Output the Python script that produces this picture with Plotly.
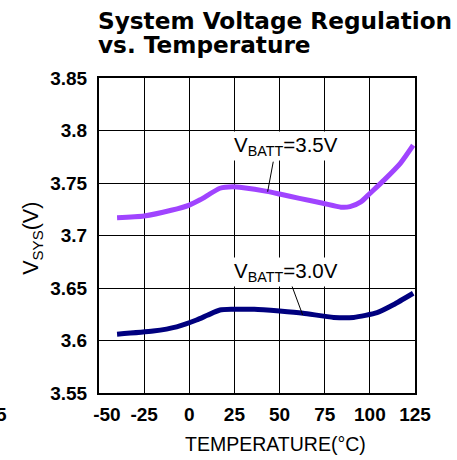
import plotly.graph_objects as go

# ---- data ----
temp_35 = [-40, -25, -10, 0, 6, 17, 24, 30, 43, 50, 61, 74, 84, 89, 95, 100, 108, 117, 124]
vsys_35 = [3.717, 3.7186, 3.724, 3.729, 3.734, 3.745, 3.7465, 3.7455, 3.742, 3.7395, 3.7354,
           3.7307, 3.727, 3.7275, 3.732, 3.740, 3.753, 3.769, 3.786]
temp_30 = [-40, -20, -7, 4, 10, 17, 24, 36, 50, 63, 80, 91, 104, 113, 124]
vsys_30 = [3.606, 3.609, 3.613, 3.6195, 3.624, 3.629, 3.6297, 3.6297, 3.628, 3.626, 3.622,
           3.622, 3.6265, 3.634, 3.645]

x_ticks = [-50, -25, 0, 25, 50, 75, 100, 125]
x_ticktext = ["\u00a0\u00a0\u00a0-50", "-25", "0", "25", "50", "75", "100", "125"]
y_ticks = [3.55, 3.6, 3.65, 3.7, 3.75, 3.8, 3.85]
y_ticktext = ["3.55", "3.6", "3.65", "3.7", "3.75", "3.8", "3.85"]

label_35 = "V<sub>BATT</sub>=3.5V"
label_30 = "V<sub>BATT</sub>=3.0V"

PURPLE = "#A044FF"
NAVY = "#00007F"

fig = go.Figure()
fig.add_trace(go.Scatter(x=temp_35, y=vsys_35, mode="lines",
                         line=dict(color=PURPLE, width=5, shape="spline", smoothing=0.6),
                         showlegend=False, hoverinfo="skip"))
fig.add_trace(go.Scatter(x=temp_30, y=vsys_30, mode="lines",
                         line=dict(color=NAVY, width=5, shape="spline", smoothing=0.6),
                         showlegend=False, hoverinfo="skip"))

tickfont = dict(family="Liberation Sans, Arial, sans-serif", size=19, color="black")

fig.update_layout(
    width=457, height=460,
    margin=dict(l=99, r=42, t=78, b=67, autoexpand=False),
    paper_bgcolor="white", plot_bgcolor="white",
    xaxis=dict(range=[-50, 125], tickvals=x_ticks, ticktext=x_ticktext,
               showgrid=True, gridcolor="black", gridwidth=1,
               showline=True, linecolor="black", linewidth=2, mirror=True,
               zeroline=False, ticks="", tickfont=dict(tickfont, weight="bold"),
               ticklabelstandoff=3),
    yaxis=dict(range=[3.55, 3.85], tickvals=y_ticks, ticktext=y_ticktext,
               showgrid=True, gridcolor="black", gridwidth=1,
               showline=True, linecolor="black", linewidth=2, mirror=True,
               zeroline=False, ticks="", tickfont=dict(tickfont, weight="bold"),
               ticklabelstandoff=6),
)

# leader lines
fig.add_shape(type="line", x0=46.5, y0=3.7703, x1=43.4, y1=3.7417,
              line=dict(color="black", width=1), layer="above")
fig.add_shape(type="line", x0=56.3, y0=3.6545, x1=62.8, y1=3.6243,
              line=dict(color="black", width=1), layer="above")

labfont = dict(family="Liberation Sans, Arial, sans-serif", size=20.5, color="black")
fig.add_annotation(x=23.4, y=3.7855, xanchor="left", yanchor="middle", text=label_35,
                   showarrow=False, font=labfont, bgcolor="white", borderpad=1)
fig.add_annotation(x=23.4, y=3.6648, xanchor="left", yanchor="middle", text=label_30,
                   showarrow=False, font=labfont, bgcolor="white", borderpad=1)

# titles
titlefont = dict(family="DejaVu Sans, sans-serif", size=23.2, color="black", weight="bold")
fig.add_annotation(xref="paper", yref="paper", x=(96 - 99) / 316, y=1.183,
                   xanchor="left", yanchor="middle", text="System Voltage Regulation",
                   showarrow=False, font=titlefont)
fig.add_annotation(xref="paper", yref="paper", x=(96 - 99) / 316, y=1.106,
                   xanchor="left", yanchor="middle", text="vs. Temperature",
                   showarrow=False, font=titlefont)

axfont = dict(family="Liberation Sans, Arial, sans-serif", size=19.5, color="black")
fig.add_annotation(xref="paper", yref="paper", x=0.560, y=-0.162,
                   xanchor="center", yanchor="middle", text="TEMPERATURE(°C)",
                   showarrow=False, font=axfont)
fig.add_annotation(xref="paper", yref="paper", x=-0.2085, y=0.49,
                   xanchor="center", yanchor="middle", text="V<sub>SYS</sub>(V)",
                   textangle=-90, showarrow=False, font=dict(axfont, size=21.5))

# clipped stray label at bottom-left
fig.add_annotation(xref="paper", yref="paper", x=(9 - 99) / 316, y=-0.0667,
                   xanchor="right", yanchor="middle", text="5",
                   showarrow=False, font=dict(tickfont, weight="bold"))

fig.write_html("out.html", config={"displayModeBar": False},
               post_script="document.body.style.margin='0px';")
